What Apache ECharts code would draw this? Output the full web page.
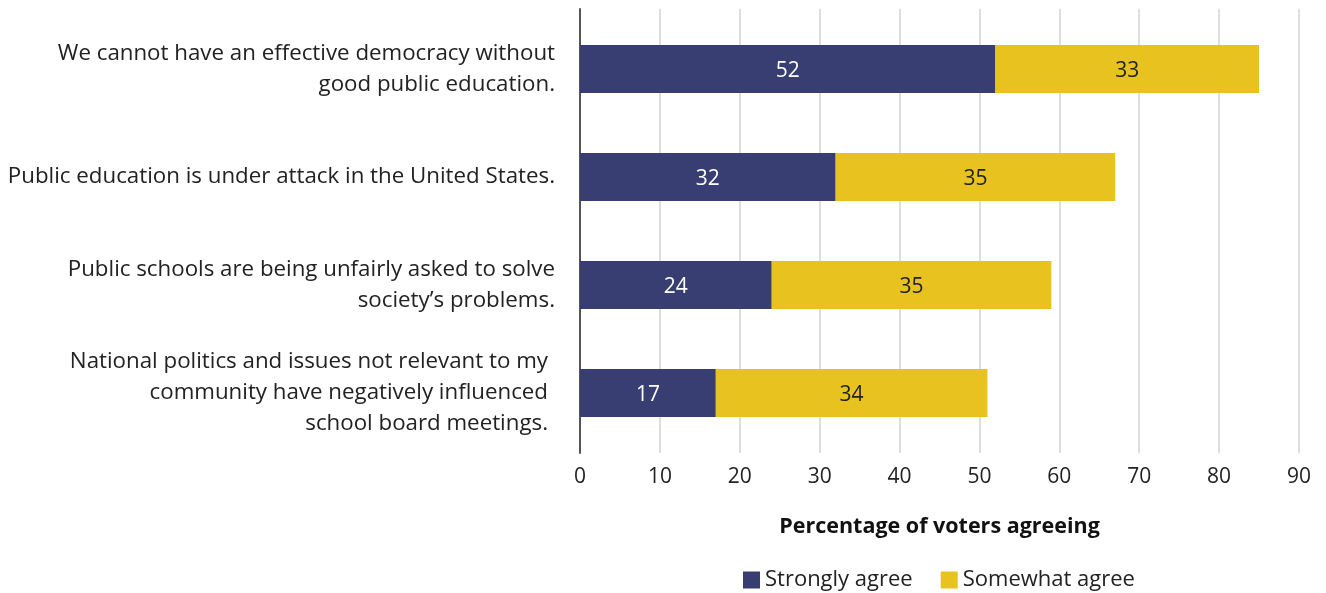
<!DOCTYPE html>
<html>
<head>
<meta charset="utf-8">
<script src="https://cdn.jsdelivr.net/npm/echarts@6/dist/echarts.min.js"></script>
<style>
  html, body { margin: 0; padding: 0; background: #fff; }
  #chart { width: 1326px; height: 593px; }
</style>
</head>
<body>
<div id="chart"></div>
<script>
// Statements, listed top to bottom
const statements = [
  'We cannot have an effective democracy without\ngood public education.',
  'Public education is under attack in the United States.',
  'Public schools are being unfairly asked to solve\nsociety\u2019s problems.',
  'National politics and issues not relevant to my\ncommunity have negatively influenced\nschool board meetings.'
];
const stronglyAgree = [52, 32, 24, 17];
const somewhatAgree = [33, 35, 35, 34];
const xTicks = [0, 10, 20, 30, 40, 50, 60, 70, 80, 90];

const FONT = 'Open Sans';
const NAVY = '#383d72';
const GOLD = '#e8c31f';

const chart = echarts.init(document.getElementById('chart'));

// Category axis reads top to bottom, so reverse for ECharts' bottom-up order
const cats = statements.slice().reverse().map((s, i) => (
  i === 0 ? { value: s, textStyle: { padding: [6, 7, 0, 0] } } : s
));
const sa = stronglyAgree.slice().reverse();
const swa = somewhatAgree.slice().reverse();

chart.setOption({
  animation: false,
  textStyle: { fontFamily: FONT },
  legend: {
    top: 564,
    left: 738,
    itemWidth: 17,
    itemHeight: 17,
    itemGap: 28,
    icon: 'rect',
    textStyle: { fontFamily: FONT, fontSize: 22, color: '#222' },
    data: ['Strongly agree', 'Somewhat agree']
  },
  grid: [
    // bars
    { left: 580, right: 27, top: 15, height: 432, containLabel: false },
    // gridlines, axis line and tick labels
    { left: 580, right: 27, top: 9, height: 444, containLabel: false }
  ],
  xAxis: [
    {
      gridIndex: 0, type: 'value', min: 0, max: 90, interval: 10,
      axisLine: { show: false }, axisTick: { show: false },
      axisLabel: { show: false }, splitLine: { show: false }
    },
    {
      gridIndex: 1, type: 'value', min: xTicks[0], max: xTicks[xTicks.length - 1], interval: 10,
      axisLine: { show: false }, axisTick: { show: false },
      axisLabel: { fontFamily: FONT, fontSize: 21, color: '#222', margin: 14 },
      splitLine: { lineStyle: { color: '#dedede', width: 2 } },
      name: 'Percentage of voters agreeing',
      nameLocation: 'middle',
      nameGap: 63,
      nameTextStyle: { fontFamily: FONT, fontSize: 21.5, fontWeight: 'bold', color: '#111' }
    }
  ],
  yAxis: [
    {
      gridIndex: 0, type: 'category', data: cats,
      axisLine: { show: false }, axisTick: { show: false },
      axisLabel: {
        fontFamily: FONT, fontSize: 22.3, color: '#222', margin: 25,
        lineHeight: 31, align: 'right', padding: [6, 0, 0, 0]
      }
    },
    {
      gridIndex: 1, type: 'category', data: [''],
      axisLine: { show: true, lineStyle: { color: '#555', width: 2 } },
      axisTick: { show: false }, axisLabel: { show: false }
    }
  ],
  series: [
    {
      name: 'Strongly agree', type: 'bar', stack: 'total',
      xAxisIndex: 0, yAxisIndex: 0,
      data: sa, barWidth: 48,
      itemStyle: { color: NAVY },
      label: { show: true, position: 'inside', offset: [0, 2], color: '#fff', fontFamily: FONT, fontSize: 21 }
    },
    {
      name: 'Somewhat agree', type: 'bar', stack: 'total',
      xAxisIndex: 0, yAxisIndex: 0,
      data: swa, barWidth: 48,
      itemStyle: { color: GOLD },
      label: { show: true, position: 'inside', offset: [0, 2], color: '#222', fontFamily: FONT, fontSize: 21 }
    }
  ]
});
</script>
</body>
</html>
